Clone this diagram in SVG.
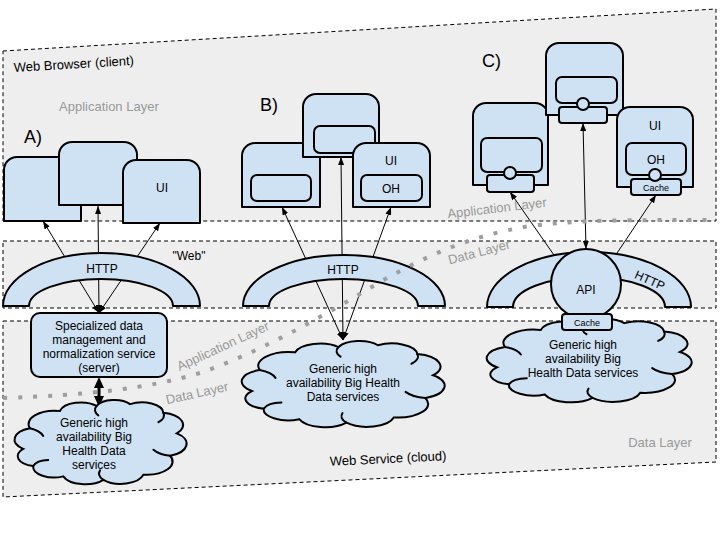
<svg xmlns="http://www.w3.org/2000/svg" xmlns:xlink="http://www.w3.org/1999/xlink" width="720" height="540" viewBox="0 0 720 540">
  <style>
    text { font-family: "Liberation Sans", Arial, sans-serif; fill: #000; }
    .region { fill: #eeeeee; stroke: #000; stroke-width: 1; stroke-dasharray: 4 3; }
    .shape { fill: #cfe2f3; stroke: #000; stroke-width: 2; stroke-linejoin: round; }
    .cloud { fill: #cfe2f3; stroke: #000; stroke-width: 2; vector-effect: non-scaling-stroke; }
    .curl { fill: none; stroke: #000; stroke-width: 2; stroke-linecap: round; vector-effect: non-scaling-stroke; }
    .edge { fill: none; stroke: #000; stroke-width: 1; }
    .thick { fill: none; stroke: #000; stroke-width: 3; }
    .layer { fill: #999999; font-size: 13px; }
    .t12 { font-size: 12px; text-anchor: middle; }
    .t13 { font-size: 13px; }
    .t9 { font-size: 9px; text-anchor: middle; }
    .big { font-size: 18px; }
    .boundary { fill: none; stroke: #9e9e9e; stroke-width: 4; stroke-dasharray: 4 11; }
  </style>
  <defs>
    <marker id="ah" markerUnits="userSpaceOnUse" markerWidth="8" markerHeight="6" refX="8" refY="3" orient="auto-start-reverse">
      <path d="M0,0 L8,3 L0,6 Z" fill="#000"/>
    </marker>
    <marker id="ahb" markerUnits="userSpaceOnUse" markerWidth="11" markerHeight="10" refX="0" refY="5" orient="auto-start-reverse">
      <path d="M0,0 L11,5 L0,10 Z" fill="#000"/>
    </marker>
    <!-- cloud outline in a 0..100 box, scaled per use -->
    <g id="cloudShape">
      <path class="cloud" d="M4,58 A14,14 0 0 1 8,34 A15.5,15.5 0 0 1 26,14 A13,13 0 0 1 48,8 A11.5,11.5 0 0 1 68,6 A13,13 0 0 1 88,16 A14.5,14.5 0 0 1 96,40 A15,15 0 0 1 92,66 A15.5,15.5 0 0 1 76,88 A14,14 0 0 1 52,94 A14,14 0 0 1 28,90 A12.5,12.5 0 0 1 10,78 A12,12 0 0 1 4,58 Z"/>
      <path class="curl" d="M8,34 A14,14 0 0 1 16,43"/>
      <path class="curl" d="M48,8 A11,11 0 0 0 49,19"/>
      <path class="curl" d="M88,16 A12,12 0 0 1 85,27"/>
      <path class="curl" d="M92,66 A15,15 0 0 1 82,59"/>
      <path class="curl" d="M52,94 A12,12 0 0 1 50,83"/>
      <path class="curl" d="M10,78 A10,10 0 0 1 19,71"/>
    </g>
  </defs>

  <!-- tiers -->
  <g id="browser">
    <polygon class="region" points="3,51 716,9 716,221 3,221"/>
    <text class="t13" x="14" y="72" transform="rotate(-3.4 14 72)">Web Browser (client)</text>
    <text class="layer" x="59" y="111">Application Layer</text>
  </g>
  <g id="web">
    <rect class="region" x="3" y="241" width="713" height="67"/>
    <text class="t12" x="189" y="259.5">"Web"</text>
  </g>
  <g id="service">
    <polygon class="region" points="3,321 716,321 716,462 3,497"/>
    <text class="t13" x="388" y="463" text-anchor="middle" transform="rotate(-2.8 388 458)">Web Service (cloud)</text>
    <text class="layer" x="660" y="446.5" text-anchor="middle">Data Layer</text>
  </g>

  <!-- connectors -->
  <g id="connectors">
    <path class="edge" d="M99,313 L43,221" marker-start="url(#ah)" marker-end="url(#ah)"/>
    <path class="edge" d="M99,313 L98,206" marker-start="url(#ah)" marker-end="url(#ah)"/>
    <path class="edge" d="M99,313 L160,223" marker-start="url(#ah)" marker-end="url(#ah)"/>
    <path class="thick" d="M99,388 L99,396" marker-start="url(#ahb)" marker-end="url(#ahb)"/>

    <path class="edge" d="M343,340 L282,207" marker-start="url(#ah)" marker-end="url(#ah)"/>
    <path class="edge" d="M343,340 L341,157" marker-start="url(#ah)" marker-end="url(#ah)"/>
    <path class="edge" d="M343,340 L391,207" marker-start="url(#ah)" marker-end="url(#ah)"/>

    <path class="edge" d="M586,249 L583,123" marker-start="url(#ah)" marker-end="url(#ah)"/>
    <path class="edge" d="M563,268 L510,192" marker-end="url(#ah)"/>
    <path class="edge" d="M607,268 L656,195" marker-end="url(#ah)"/>
  </g>

  <!-- A) -->
  <text class="big" x="24" y="143">A)</text>
  <g id="a-app1">
    <path class="shape" d="M4,221 V170 A13,13 0 0 1 17,157 H68 A13,13 0 0 1 81,170 V221 Z"/>
  </g>
  <g id="a-app2">
    <path class="shape" d="M59,205 V155 A13,13 0 0 1 72,142 H124 A13,13 0 0 1 137,155 V205 Z"/>
  </g>
  <g id="a-app3">
    <path class="shape" d="M123,223 V173 A13,13 0 0 1 136,160 H187 A13,13 0 0 1 200,173 V223 Z"/>
    <text class="t12" x="162" y="191.5">UI</text>
  </g>
  <g id="a-http">
    <path class="shape" d="M3,306 A98.5,53 0 0 1 200,306 L173,306 A72,27 0 0 0 29,306 Z"/>
    <text class="t12" x="102" y="272.5">HTTP</text>
  </g>
  <g id="a-server">
    <rect class="shape" x="31" y="313" width="136" height="64" rx="9"/>
    <text class="t12" x="99" y="329.5">Specialized data</text>
    <text class="t12" x="99" y="343.5">management and</text>
    <text class="t12" x="99" y="357.5">normalization service</text>
    <text class="t12" x="99" y="371.5">(server)</text>
  </g>
  <g id="a-data">
    <use xlink:href="#cloudShape" transform="translate(16.5,399) scale(1.67,0.86)"/>
    <text class="t12" x="94" y="426.5">Generic high</text>
    <text class="t12" x="94" y="440.5">availability Big</text>
    <text class="t12" x="94" y="454.5">Health Data</text>
    <text class="t12" x="94" y="468.5">services</text>
  </g>

  <!-- B) -->
  <text class="big" x="260" y="111">B)</text>
  <g id="b-app1">
    <path class="shape" d="M242,207 V156 A13,13 0 0 1 255,143 H307 A13,13 0 0 1 320,156 V207 Z"/>
    <rect class="shape" x="251" y="175" width="60" height="26" rx="6"/>
  </g>
  <g id="b-app2">
    <path class="shape" d="M303,157 V107 A13,13 0 0 1 316,94 H366 A13,13 0 0 1 379,107 V157 Z"/>
    <rect class="shape" x="314" y="126" width="61" height="27" rx="6"/>
  </g>
  <g id="b-app3">
    <path class="shape" d="M353,207 V156 A13,13 0 0 1 366,143 H417 A13,13 0 0 1 430,156 V207 Z"/>
    <text class="t12" x="391" y="164.5">UI</text>
    <rect class="shape" x="361" y="175" width="61" height="26" rx="6"/>
    <text class="t12" x="391" y="192.5">OH</text>
  </g>
  <g id="b-http">
    <path class="shape" d="M243,306 A101,51 0 0 1 445,306 L418,306 A74.5,27 0 0 0 269,306 Z"/>
    <text class="t12" x="343" y="273.5">HTTP</text>
  </g>
  <g id="b-data">
    <use xlink:href="#cloudShape" transform="translate(244,340) scale(1.97,0.88)"/>
    <text class="t12" x="343" y="372.5">Generic high</text>
    <text class="t12" x="343" y="386.5">availability Big Health</text>
    <text class="t12" x="343" y="400.5">Data services</text>
  </g>

  <!-- C) -->
  <text class="big" x="482" y="67">C)</text>
  <g id="c-app1">
    <path class="shape" d="M473,185 V116 A13,13 0 0 1 486,103 H535 A13,13 0 0 1 548,116 V185 Z"/>
    <rect class="shape" x="481" y="138" width="61" height="34" rx="6"/>
    <rect class="shape" x="487" y="175" width="47" height="17" rx="3"/>
    <circle class="shape" cx="510" cy="173" r="6"/>
  </g>
  <g id="c-app2">
    <path class="shape" d="M546,115 V56 A13,13 0 0 1 559,43 H610 A13,13 0 0 1 623,56 V115 Z"/>
    <rect class="shape" x="556" y="77" width="61" height="26" rx="6"/>
    <rect class="shape" x="559" y="107" width="48" height="16" rx="3"/>
    <circle class="shape" cx="583" cy="104" r="6"/>
  </g>
  <g id="c-app3">
    <path class="shape" d="M617,187 V120 A13,13 0 0 1 630,107 H680 A13,13 0 0 1 693,120 V187 Z"/>
    <text class="t12" x="655" y="129.5">UI</text>
    <rect class="shape" x="626" y="143" width="60" height="32" rx="6"/>
    <text class="t12" x="656" y="163.5">OH</text>
    <rect class="shape" x="631" y="179" width="50" height="16" rx="3"/>
    <circle class="shape" cx="655" cy="175" r="6"/>
    <text class="t9" x="656" y="190.5">Cache</text>
  </g>
  <g id="c-http">
    <path class="shape" d="M487,307 A102,55 0 0 1 691,307 L665,307 A76,30 0 0 0 513,307 Z"/>
    <text class="t12" x="650" y="284.5" transform="rotate(24 650 280)">HTTP</text>
  </g>
  <g id="c-data">
    <use xlink:href="#cloudShape" transform="translate(489,318) scale(1.99,0.85)"/>
    <text class="t12" x="583" y="348.5">Generic high</text>
    <text class="t12" x="583" y="362.5">availability Big</text>
    <text class="t12" x="583" y="376.5">Health Data services</text>
  </g>
  <g id="c-api">
    <circle class="shape" cx="586" cy="284" r="35"/>
    <text class="t12" x="586" y="294">API</text>
    <rect class="shape" x="562" y="314" width="50" height="16" rx="3"/>
    <text class="t9" x="587" y="325.5">Cache</text>
  </g>

  <!-- application / data boundary -->
  <g id="layer-boundary">
    <path class="boundary" d="M3,398 C90,395 150,388 200,373 C260,352 320,318 380,282 C430,254 470,236 530,226 C580,220 620,220 716,220"/>
    <text class="layer" x="223" y="350.5" text-anchor="middle" transform="rotate(-24.8 223 346)">Application Layer</text>
    <text class="layer" x="197" y="397.5" text-anchor="middle" transform="rotate(-12.5 197 393)">Data Layer</text>
    <text class="layer" x="497" y="212.5" text-anchor="middle" transform="rotate(-6.8 497 208)">Application Layer</text>
    <text class="layer" x="479" y="256.5" text-anchor="middle" transform="rotate(-15 479 252)">Data Layer</text>
  </g>
</svg>
